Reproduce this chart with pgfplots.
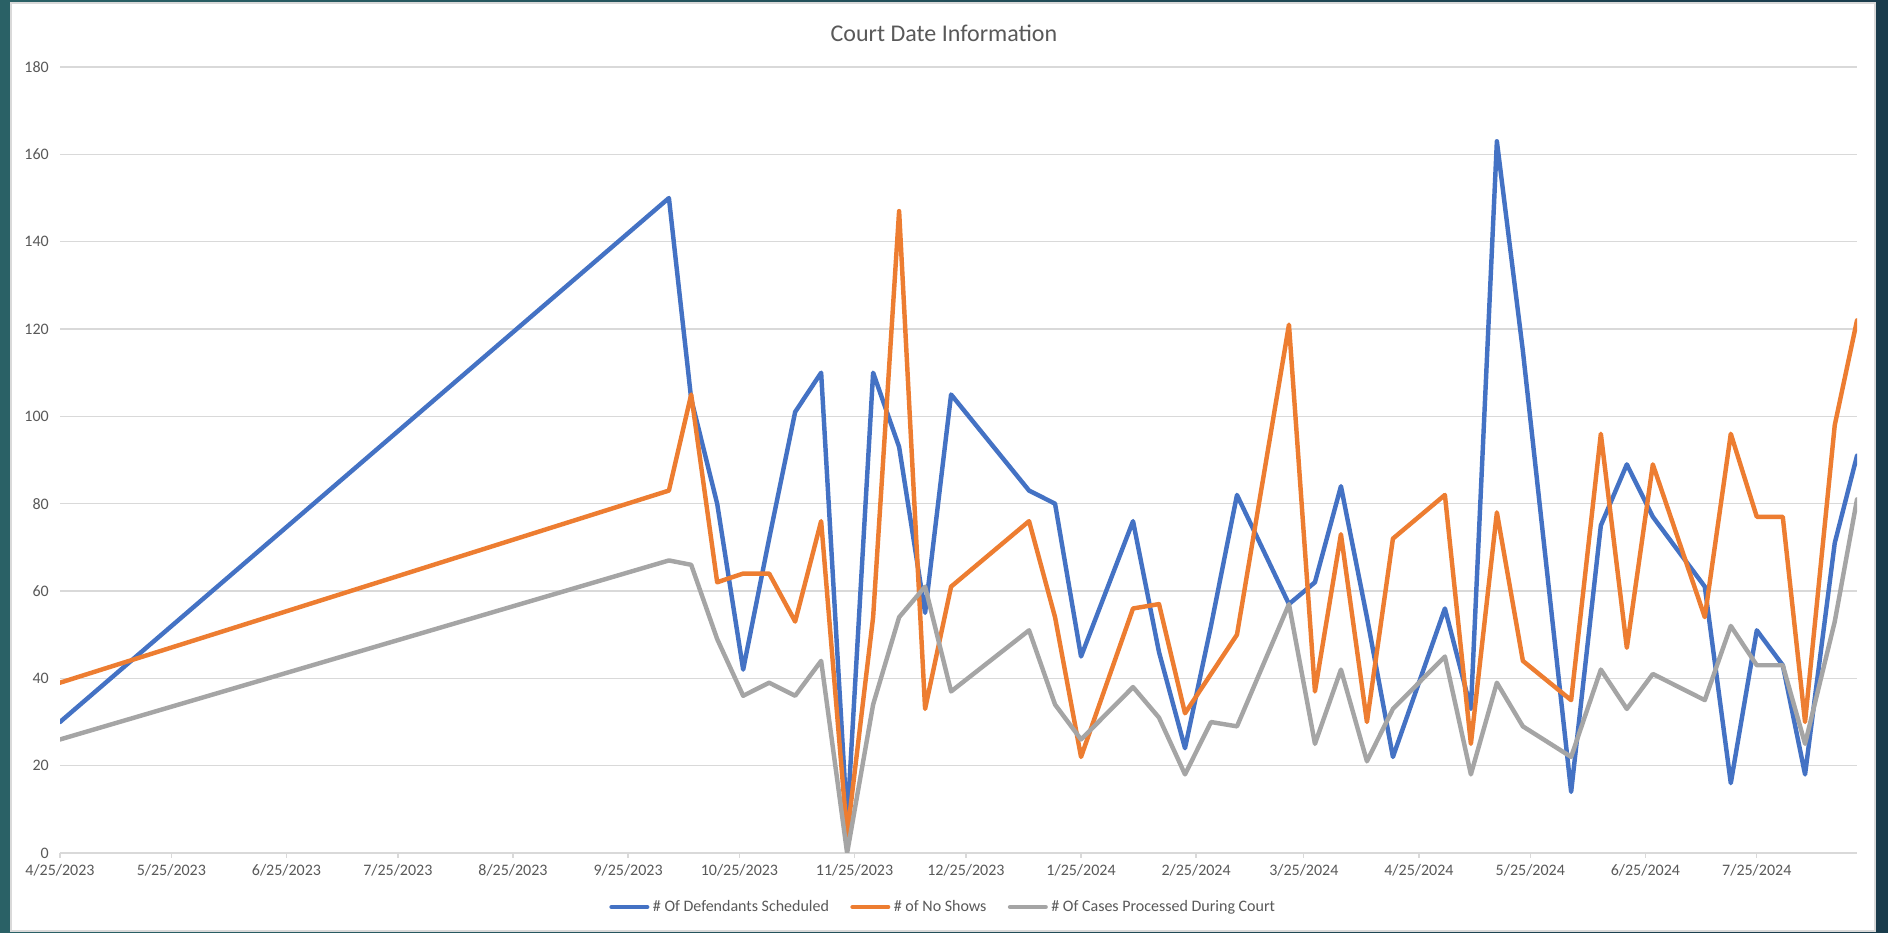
\documentclass[border=0pt]{standalone}
\usepackage{fontspec}
\setmainfont{Carlito}
\usepackage{pgfplots}
\usepackage{pgfplotstable}
\pgfplotsset{compat=1.18}

\definecolor{sblue}{HTML}{4472C4}
\definecolor{sorange}{HTML}{ED7D31}
\definecolor{sgray}{HTML}{A5A5A5}
\definecolor{txtgray}{HTML}{595959}
\definecolor{gridgray}{HTML}{D9D9D9}
\definecolor{tealL}{HTML}{2A6166}
\definecolor{tealR}{HTML}{1A3C4C}

% day = days since 4/25/2023
\pgfplotstableread{
day def noshow cases
0   30  39  26
164 150 83  67
170 104 105 66
177 80  62  49
184 42  64  36
191 72  64  39
198 101 53  36
205 110 76  44
212 7   4   0
219 110 54  34
226 93  147 54
233 55  33  61
240 105 61  37
261 83  76  51
268 80  54  34
275 45  22  26
289 76  56  38
296 46  57  31
303 24  32  18
310 52  41  30
317 82  50  29
331 57  121 57
338 62  37  25
345 84  73  42
352 54  30  21
359 22  72  33
373 56  82  45
380 33  25  18
387 163 78  39
394 115 44  29
407 14  35  22
415 75  96  42
422 89  47  33
429 77  89  41
443 61  54  35
450 16  96  52
457 51  77  43
464 43  77  43
470 18  30  25
478 71  98  53
484 91  122 81
}\courtdata

\begin{document}
\begin{tikzpicture}
% frame: 1 px of the reference = 0.5625pt
\shade[left color=tealL,right color=tealR] (0pt,0pt) rectangle (1062pt,524.8125pt);
\fill[white,draw=gridgray,line width=0.75pt] (6.19pt,1.125pt) rectangle (1054.69pt,523.125pt);
\begin{axis}[
  at={(33.75pt,45pt)}, anchor=south west,
  scale only axis, width=1010.8pt, height=442.1pt,
  xmin=0, xmax=484, ymin=0, ymax=180,
  ytick={0,20,...,180},
  xtick={0,30,61,91,122,153,183,214,244,275,306,335,366,396,427,457},
  xticklabels={4/25/2023,5/25/2023,6/25/2023,7/25/2023,8/25/2023,9/25/2023,10/25/2023,11/25/2023,12/25/2023,1/25/2024,2/25/2024,3/25/2024,4/25/2024,5/25/2024,6/25/2024,7/25/2024},
  axis x line*=bottom, axis y line*=left,
  x axis line style={gridgray,line width=0.75pt,-},
  y axis line style={draw=none},
  tick align=outside,
  xtick style={gridgray,line width=0.75pt},
  ytick style={draw=none},
  major tick length=2.8pt,
  ymajorgrids, grid style={gridgray,line width=0.75pt},
  /pgf/number format/assume math mode=true,
  ticklabel style={font=\fontsize{9}{11}\selectfont,text=txtgray},
  title={Court Date Information},
  title style={at={(0.4919,1.029)},anchor=center,font=\fontsize{13.5}{16}\selectfont,text=txtgray},
  legend columns=3,
  legend style={at={(0.4919,-0.0687)},anchor=center,draw=none,fill=none,
    font=\fontsize{9}{11}\selectfont,text=txtgray,
    /tikz/every even column/.append style={column sep=10pt}},
  legend image code/.code={\draw[#1,line width=2.5pt] (0pt,0pt) -- (20pt,0pt);},
  every axis plot/.append style={line width=2.5pt,line join=round,line cap=round},
]
\addplot[sblue] table[x=day,y=def] {\courtdata};
\addplot[sorange] table[x=day,y=noshow] {\courtdata};
\addplot[sgray] table[x=day,y=cases] {\courtdata};
\legend{\# Of Defendants Scheduled,\# of No Shows,\# Of Cases Processed During Court}
\end{axis}
\end{tikzpicture}
\end{document}
